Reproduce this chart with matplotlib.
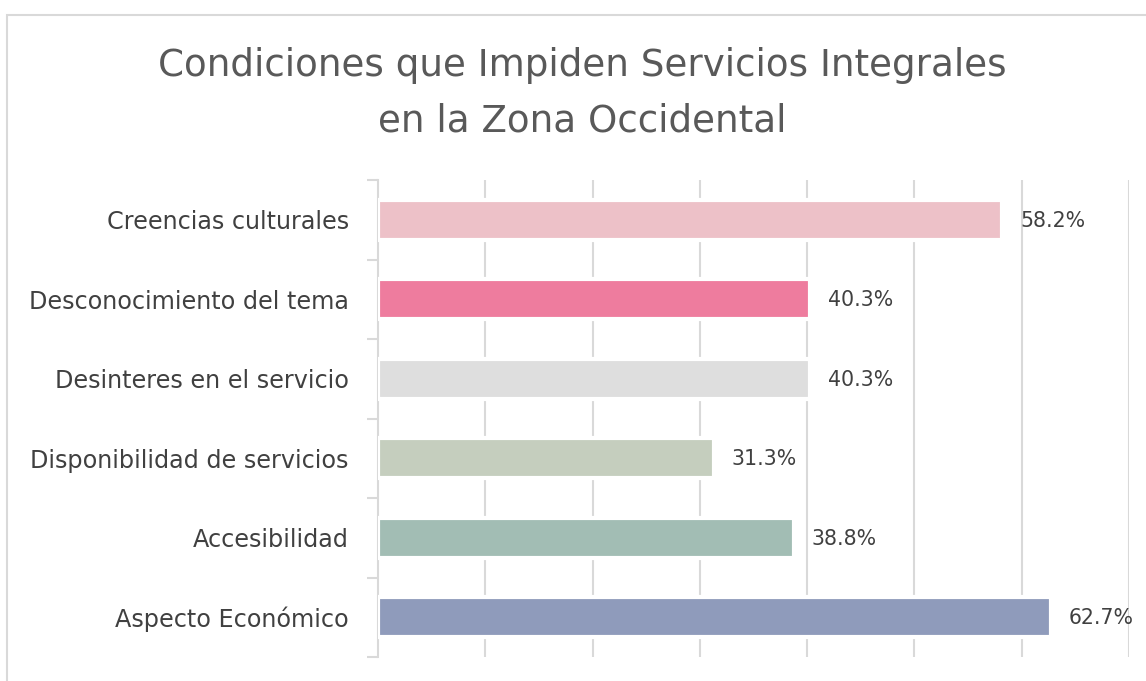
import matplotlib.pyplot as plt
from matplotlib.patches import Rectangle
import numpy as np

plt.rcParams['font.family'] = ['DejaVu Sans']

categories = ['Creencias culturales', 'Desconocimiento del tema', 'Desinteres en el servicio',
              'Disponibilidad de servicios', 'Accesibilidad', 'Aspecto Económico']
values = [58.2, 40.3, 40.3, 31.3, 38.8, 62.7]
colors = ['#EDC1C8', '#EE7C9E', '#DEDEDE', '#C5CEBE', '#A2BDB4', '#8F9BBB']

fig = plt.figure(figsize=(11.46, 6.81), dpi=100)
ax = fig.add_axes([378 / 1146, 1 - 657 / 681, (1129 - 378) / 1146, (657 - 180) / 681])

# outer frame (left and top edges visible)
fig.patches.append(Rectangle((7 / 1146, -0.1), 1.2, 0.978 + 0.1, transform=fig.transFigure,
                             fill=False, edgecolor='#D9D9D9', linewidth=1.5))

y = np.arange(len(categories))[::-1]
ax.barh(y, values, height=0.5, color=colors, edgecolor='white', linewidth=3, zorder=3)

for yi, v in zip(y, values):
    ax.text(v + 1.65, yi - 0.01, f'{v}%', va='center', ha='left', fontsize=14.8, color='#404040')

ax.set_xlim(0, 70)
ax.set_ylim(-0.5, len(categories) - 0.5)
ax.set_xticks(np.arange(10, 71, 10))
ax.tick_params(axis='x', length=0, labelbottom=False)
ax.grid(axis='x', color='#D9D9D9', linewidth=1.5, zorder=0)

ax.set_yticks(y)
ax.set_yticklabels(categories, fontsize=17.2, color='#404040')
ax.tick_params(axis='y', which='major', length=0, pad=21)
ax.set_yticks(np.arange(-0.5, len(categories), 1), minor=True)
ax.tick_params(axis='y', which='minor', length=8, width=1.5, color='#D9D9D9')

for s in ['top', 'right', 'bottom']:
    ax.spines[s].set_visible(False)
ax.spines['left'].set_color('#D9D9D9')
ax.spines['left'].set_linewidth(1.5)

fig.text(582 / 1146, 1 - 66 / 681, 'Condiciones que Impiden Servicios Integrales', ha='center', va='center',
         fontsize=26.8, color='#595959')
fig.text(582 / 1146, 1 - 121 / 681, 'en la Zona Occidental', ha='center', va='center',
         fontsize=26.8, color='#595959')

fig.savefig('out.png', dpi=100)
